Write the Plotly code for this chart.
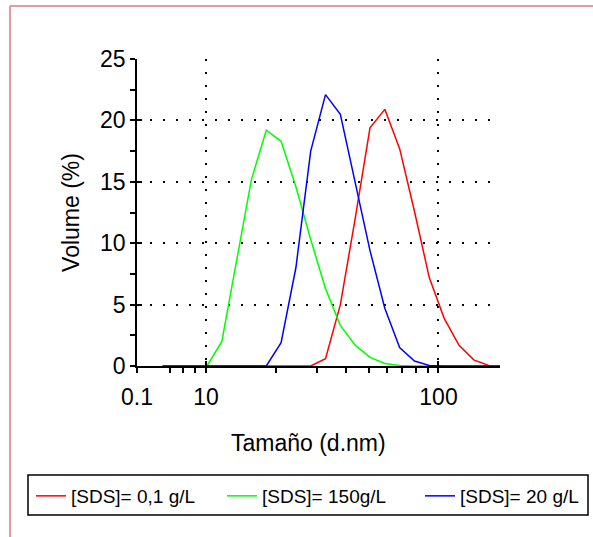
import math
import plotly.graph_objects as go

# ---- data ----
sizes_nm = [6.503, 7.531, 8.721, 10.10, 11.70, 13.54, 15.69, 18.17, 21.04, 24.36,
            28.21, 32.67, 37.84, 43.82, 50.75, 58.77, 68.06, 78.82, 91.28, 105.7,
            122.4, 141.8, 164.2, 190.1]
vol_sds_01 = [0, 0, 0, 0, 0, 0, 0, 0, 0, 0,
              0, 0.6, 5.0, 12.0, 19.4, 20.9, 17.7, 12.6, 7.2, 3.9,
              1.7, 0.5, 0.05, 0]
vol_sds_150 = [0, 0, 0, 0, 2.0, 8.6, 15.2, 19.2, 18.3, 14.6,
               10.3, 6.3, 3.3, 1.7, 0.7, 0.2, 0.05, 0, 0, 0,
               0, 0, 0, 0]
vol_sds_20 = [0, 0, 0, 0, 0, 0, 0, 0, 1.9, 8.0,
              17.5, 22.1, 20.5, 15.0, 9.4, 4.7, 1.5, 0.4, 0.05, 0,
              0, 0, 0, 0]
series_names = ["[SDS]= 0,1 g/L", "[SDS]= 150g/L", "[SDS]= 20 g/L"]
series_colors = ["#ff0000", "#00ff00", "#0000ff"]

x_tick_text = ["0.1", "10", "100"]
x_tick_major = [10, 100]
x_tick_minor = [7, 8, 9, 20, 30, 40, 50, 60, 70, 80, 90]
y_ticks = [0, 5, 10, 15, 20, 25]

# ---- layout geometry ----
W, H = 593, 537
L, R, T, B = 137, 93, 59, 171
PW, PH = W - L - R, H - T - B
x_lo, x_hi = 5.05, 183.9
xr = [math.log10(x_lo), math.log10(x_hi)]


def px(p):
    return (p - L) / PW


def py(q):
    return (H - B - q) / PH


FONT = "Liberation Sans, Arial, sans-serif"
GRID_DASH = "2px,11px"
legend_ids = ["legend", "legend2", "legend3"]
legend_left_px = [31, 222, 420]
legend_mid_px = 496

fig = go.Figure()
for vals, name, col, lg in zip([vol_sds_01, vol_sds_150, vol_sds_20], series_names,
                               series_colors, legend_ids):
    fig.add_trace(go.Scatter(x=sizes_nm, y=vals, mode="lines", name=name, legend=lg,
                             line=dict(color=col, width=1.5)))
# empty trace to host the overlay axes (crossing ticks)
fig.add_trace(go.Scatter(x=[], y=[], xaxis="x2", yaxis="y2", showlegend=False,
                         hoverinfo="skip"))

x_tickvals = [x_lo] + x_tick_major

common_x = dict(type="log", range=xr, tickmode="array", tickvals=x_tickvals,
                ticklen=5, tickwidth=1.5, tickcolor="black",
                minor=dict(tickmode="array", tickvals=x_tick_minor, ticklen=5,
                           tickwidth=1.5, tickcolor="black", showgrid=False),
                zeroline=False)
common_y = dict(range=[0, 25], tickmode="array", tickvals=y_ticks,
                ticklen=5, tickwidth=1.5, tickcolor="black",
                minor=dict(tickmode="linear", tick0=0, dtick=2.5, ticklen=5,
                           tickwidth=1.5, tickcolor="black", showgrid=False),
                zeroline=False)

legends = {}
for lg, left in zip(legend_ids, legend_left_px):
    legends[lg] = dict(orientation="h", xref="container", yref="container",
                       x=left / W, y=1 - legend_mid_px / H,
                       xanchor="left", yanchor="middle",
                       borderwidth=0, bgcolor="rgba(0,0,0,0)",
                       font=dict(size=19, family=FONT, color="black"), itemwidth=30)

fig.update_layout(
    width=W, height=H,
    margin=dict(l=L, r=R, t=T, b=B, pad=0),
    paper_bgcolor="white", plot_bgcolor="white",
    font=dict(family=FONT, size=23, color="black"),
    showlegend=True,
    xaxis=dict(**common_x, ticks="outside", ticktext=x_tick_text,
               showline=True, linecolor="black", linewidth=1.5,
               showgrid=True, gridcolor="black", gridwidth=2, griddash=GRID_DASH,
               tickfont=dict(size=23), ticklabelstandoff=5),
    xaxis2=dict(**common_x, ticks="inside", overlaying="x", anchor="y",
                showticklabels=False, showgrid=False, showline=False),
    yaxis=dict(**common_y, ticks="outside",
               showline=True, linecolor="black", linewidth=1.5,
               showgrid=True, gridcolor="black", gridwidth=2, griddash=GRID_DASH,
               tickfont=dict(size=23),
               title=dict(text="Volume (%)", font=dict(size=23), standoff=14)),
    yaxis2=dict(**common_y, ticks="inside", overlaying="y", anchor="x",
                showticklabels=False, showgrid=False, showline=False),
    annotations=[dict(text="Tamaño (d.nm)", xref="paper", yref="paper",
                      x=px(308.5), y=py(443), showarrow=False,
                      font=dict(size=23), xanchor="center", yanchor="middle")],
    shapes=[
        dict(type="line", xref="paper", yref="paper", x0=px(10), x1=px(W),
             y0=py(6), y1=py(6), line=dict(color="#dc9ca2", width=2)),
        dict(type="line", xref="paper", yref="paper", x0=px(10), x1=px(10),
             y0=py(6), y1=py(H), line=dict(color="#dc9ca2", width=2)),
        dict(type="rect", xref="paper", yref="paper", x0=px(28), x1=px(588),
             y0=py(475), y1=py(515), line=dict(color="black", width=1.5),
             fillcolor="rgba(0,0,0,0)"),
    ],
    **legends,
)

fig.write_html("out.html")
